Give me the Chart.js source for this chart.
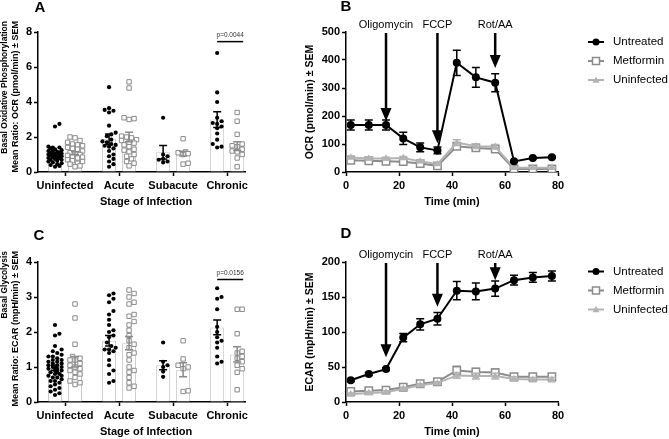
<!DOCTYPE html>
<html><head><meta charset="utf-8">
<script src="https://cdn.jsdelivr.net/npm/chart.js@4.4.1/dist/chart.umd.min.js"></script>
<style>
html,body{margin:0;padding:0;background:#fff;}
#wrap{position:relative;width:669px;height:439px;overflow:hidden;background:#fff;}
#wrap canvas{position:absolute;left:0;top:0;width:669px;height:439px;}
</style></head><body>
<div id="wrap">
<canvas id="cA" width="669" height="439"></canvas>
<canvas id="cB" width="669" height="439"></canvas>
<canvas id="cC" width="669" height="439"></canvas>
<canvas id="cD" width="669" height="439"></canvas>
</div>
<script>
const FONT = "'Liberation Sans', Arial, Helvetica, sans-serif";
Chart.defaults.font.family = FONT;
Chart.defaults.color = '#000';

// ---------- DATA ----------
const stages = ['Uninfected', 'Acute', 'Subacute', 'Chronic'];

// Panel A: basal OCR mean ratio (individual samples per stage)
const ocrRatioUntreated = [
  [2.75,2.6,1.45,1.4,1.4,1.35,1.3,1.25,1.2,1.2,1.15,1.1,1.1,1.05,1.05,1.0,1.0,1.0,0.95,0.95,0.9,0.9,0.85,0.85,0.8,0.8,0.75,0.7,0.7,0.65,0.6,0.55,0.5,0.45,0.4,0.35,0.3],
  [4.85,3.65,3.55,3.5,3.4,2.65,2.25,2.15,2.05,1.85,1.75,1.7,1.6,1.55,1.5,1.45,1.35,1.2,1.0,0.9,0.75,0.6,0.45,0.3],
  [3.1,1.0,0.9,0.75,0.7,0.6,0.55],
  [6.8,4.55,4.0,3.1,2.9,2.8,2.75,2.6,2.5,2.2,1.85,1.6,1.45,1.4]
];
const ocrRatioMetformin = [
  [2.0,1.95,1.8,1.7,1.6,1.55,1.5,1.4,1.35,1.3,1.2,1.1,1.05,1.0,0.95,0.9,0.85,0.8,0.7,0.65,0.6,0.5,0.45,0.35,0.3],
  [5.15,4.8,3.1,3.05,3.0,2.05,2.0,1.95,1.85,1.8,1.7,1.65,1.55,1.45,1.3,1.25,1.15,1.0,0.9,0.75,0.6,0.5,0.35],
  [1.9,1.15,1.1,1.05,1.0,0.5,0.45],
  [3.4,2.9,2.15,1.6,1.5,1.45,1.3,1.2,1.15,1.0,0.8,0.3]
];
const ocrRatioUntreatedMean = [1.0, 1.87, 1.13, 3.0];
const ocrRatioUntreatedSem  = [0.08, 0.3, 0.38, 0.45];
const ocrRatioMetforminMean = [1.07, 2.0, 1.05, 1.48];
const ocrRatioMetforminSem  = [0.09, 0.27, 0.14, 0.25];

// Panel C: basal ECAR mean ratio
const ecarRatioUntreated = [
  [2.2,1.95,1.9,1.6,1.5,1.45,1.4,1.35,1.3,1.3,1.25,1.2,1.2,1.15,1.15,1.1,1.1,1.05,1.05,1.0,1.0,1.0,0.95,0.95,0.9,0.9,0.85,0.85,0.8,0.8,0.75,0.75,0.7,0.7,0.65,0.6,0.6,0.55,0.5,0.45,0.4,0.35,0.3,0.25,0.2],
  [3.1,3.05,2.95,2.85,2.6,2.5,2.35,2.2,2.05,2.0,1.9,1.85,1.7,1.6,1.55,1.5,1.5,1.45,1.4,1.2,1.05,0.9,0.8,0.6,0.55],
  [1.7,1.15,1.05,1.0,0.87,0.72],
  [3.25,3.0,2.95,2.65,2.15,2.0,1.85,1.75,1.7,1.55,1.3,1.15,1.1]
];
const ecarRatioMetformin = [
  [2.8,2.4,1.65,1.3,1.25,1.2,1.2,1.1,1.05,1.0,0.95,0.9,0.85,0.8,0.7,0.6,0.55,0.5],
  [3.2,3.1,3.0,2.85,2.8,2.5,2.45,2.3,2.2,2.05,1.9,1.75,1.65,1.55,1.4,1.35,1.2,1.0,0.9,0.85,0.7,0.55,0.45,0.4],
  [1.75,1.23,1.05,1.0,0.95,0.32,0.3],
  [2.65,2.65,1.95,1.45,1.4,1.3,1.25,1.15,1.05,0.95,0.85,0.35]
];
const ecarRatioUntreatedMean = [0.98, 1.75, 1.05, 2.13];
const ecarRatioUntreatedSem  = [0.07, 0.15, 0.13, 0.21];
const ecarRatioMetforminMean = [1.15, 1.68, 0.92, 1.36];
const ecarRatioMetforminSem  = [0.15, 0.19, 0.2, 0.22];

// Panels B and D: time course
const timeMin = [1.8, 8.6, 15.1, 21.6, 28, 34.5, 41.8, 49, 56.3, 63.4, 70.5, 77.7];
const ocrUntreated    = [168, 168, 168, 120, 88, 77, 390, 338, 319, 38, 50, 53];
const ocrUntreatedSem = [18, 18, 18, 22, 16, 12, 45, 35, 32, 3, 3, 3];
const ocrMetformin    = [42, 40, 38, 37, 30, 22, 92, 86, 82, 11, 11, 11];
const ocrMetforminSem = [5, 5, 5, 5, 4, 4, 8, 6, 6, 2, 2, 2];
const ocrUninfected   = [52, 48, 48, 50, 38, 28, 105, 92, 90, 15, 15, 15];
const ocrUninfectedSem= [5, 5, 5, 5, 4, 4, 10, 8, 8, 2, 2, 2];

const ecarUntreated    = [31, 40, 47, 92, 111, 119, 159, 158, 162, 174, 178, 180];
const ecarUntreatedSem = [2, 2, 2, 6, 8, 9, 13, 12, 11, 7, 7, 7];
const ecarMetformin    = [15, 16, 17, 21, 26, 29, 45, 43, 42, 36, 36, 36];
const ecarMetforminSem = [3, 3, 3, 3, 3, 3, 6, 5, 5, 4, 4, 4];
const ecarUninfected   = [11, 13, 14, 19, 24, 27, 38, 37, 37, 33, 32, 32];
const ecarUninfectedSem= [2, 2, 2, 2, 2, 2, 4, 4, 4, 3, 3, 3];

const injections = ['Oligomycin', 'FCCP', 'Rot/AA'];
const injectionTime = [15.1, 34.5, 56.3];
const ocrArrowTip  = [182, 103, 371];
const ecarArrowTip = [64, 136, 174];

const seriesNames = ['Untreated', 'Metformin', 'Uninfected'];
const pValueA = 'p=0.0044';
const pValueC = 'p=0.0156';

// ---------- STYLE ----------
const COL_UNTR = '#000000', COL_MET = '#8c8c8c', COL_UNINF = '#b3b3b3';
const OFF = 0.185; // half-spacing of paired bars (category units)

function axisStyle(extra) {
  return Object.assign({
    grid: { display: true, drawOnChartArea: false, drawTicks: true, tickLength: 4, tickColor: '#000', tickWidth: 1.5, color: '#000', offset: false },
    border: { display: true, color: '#000', width: 1.5 },
    ticks: { color: '#000', font: { family: FONT, size: 11, weight: 'bold' }, padding: 2 }
  }, extra);
}

// ---------- PLUGINS ----------
function drawMarker(ctx, style, x, y, color, fill) {
  ctx.save();
  ctx.lineWidth = 1.5; ctx.strokeStyle = color; ctx.fillStyle = fill;
  ctx.beginPath();
  if (style === 'circle') { ctx.arc(x, y, 3.5, 0, Math.PI * 2); ctx.fill(); }
  else if (style === 'rect') { ctx.rect(x - 3.5, y - 3.5, 7, 7); ctx.fill(); ctx.stroke(); }
  else { ctx.moveTo(x, y - 3.5); ctx.lineTo(x + 3.5, y + 2.8); ctx.lineTo(x - 3.5, y + 2.8); ctx.closePath(); ctx.fill(); }
  ctx.restore();
}

const annotPlugin = {
  id: 'annot',
  afterDraw(chart, args, o) {
    const ctx = chart.ctx, ca = chart.chartArea, xs = chart.scales.x, ys = chart.scales.y;
    ctx.save();
    ctx.fillStyle = '#000'; ctx.strokeStyle = '#000';
    // panel letter
    ctx.font = `bold 15px ${FONT}`; ctx.textAlign = 'center'; ctx.textBaseline = 'middle';
    ctx.fillText(o.letter, ca.left + o.letterDx, ca.top - o.letterDy);
    // y titles
    if (o.yTitleLines) {
      o.yTitleLines.forEach((t, k) => {
        ctx.font = `bold ${o.yTitleSize[k]}px ${FONT}`;
        ctx.save(); ctx.translate(ca.left - o.yTitleDx[k], ca.top - 11); ctx.rotate(-Math.PI / 2);
        ctx.textAlign = 'right'; ctx.textBaseline = 'middle'; ctx.fillText(t, 0, 0); ctx.restore();
      });
    }
    if (o.yTitle) {
      ctx.font = `bold ${o.yTitleSize}px ${FONT}`;
      ctx.save(); ctx.translate(ca.left - o.yTitleDx, (ca.top + ca.bottom) / 2); ctx.rotate(-Math.PI / 2);
      ctx.textAlign = 'center'; ctx.textBaseline = 'middle'; ctx.fillText(o.yTitle, 0, 0); ctx.restore();
    }
    // x title
    ctx.font = `bold 11px ${FONT}`; ctx.textAlign = 'center'; ctx.textBaseline = 'middle';
    ctx.fillText(o.xTitle, xs.getPixelForValue(o.xTitleAt), ca.bottom + 30);
    // p-value bracket
    if (o.pval) {
      const p = o.pval;
      ctx.lineWidth = 1.5;
      const ly = ys.getPixelForValue(p.lineY);
      ctx.beginPath(); ctx.moveTo(xs.getPixelForValue(p.x1), ly); ctx.lineTo(xs.getPixelForValue(p.x2), ly); ctx.stroke();
      ctx.fillStyle = '#333'; ctx.font = `6.5px ${FONT}`;
      ctx.fillText(p.text, xs.getPixelForValue((p.x1 + p.x2) / 2), ys.getPixelForValue(p.textY));
      ctx.fillStyle = '#000';
    }
    // injection arrows
    if (o.arrows) {
      o.arrows.labels.forEach((lab, i) => {
        const x = xs.getPixelForValue(o.arrows.times[i]);
        const tip = ys.getPixelForValue(o.arrows.tips[i]);
        const top = ca.top + 1, headH = 13, headW = 5.5;
        ctx.lineWidth = 2.5;
        ctx.beginPath(); ctx.moveTo(x, top); ctx.lineTo(x, tip - headH + 1); ctx.stroke();
        ctx.beginPath(); ctx.moveTo(x - headW, tip - headH); ctx.lineTo(x + headW, tip - headH); ctx.lineTo(x, tip); ctx.closePath(); ctx.fill();
        ctx.font = `11px ${FONT}`; ctx.textAlign = 'center'; ctx.textBaseline = 'middle';
        ctx.fillText(lab, x, ca.top - 7.5);
      });
    }
    // legend
    if (o.legend) {
      chart.data.datasets.forEach((ds, i) => {
        const y = ca.top + o.legend.dy0 + i * 19;
        const lx = ca.right + 30;
        ctx.strokeStyle = ds.borderColor; ctx.lineWidth = 2;
        ctx.beginPath(); ctx.moveTo(lx, y); ctx.lineTo(lx + 16, y); ctx.stroke();
        drawMarker(ctx, ds.pointStyle, lx + 8, y, ds.borderColor, ds.pointBackgroundColor);
        ctx.fillStyle = '#000'; ctx.font = `11.5px ${FONT}`; ctx.textAlign = 'left'; ctx.textBaseline = 'middle';
        ctx.fillText(ds.label, lx + 25, y);
      });
    }
    ctx.restore();
  }
};

const errPlugin = {
  id: 'errbars',
  beforeDatasetDraw(chart, args, o) {
    if (!o.sems || !o.sems[args.index]) return;
    const sems = o.sems[args.index];
    const ds = chart.data.datasets[args.index];
    const ctx = chart.ctx, xs = chart.scales.x, ys = chart.scales.y;
    ctx.save(); ctx.strokeStyle = ds.borderColor; ctx.lineWidth = 1.5;
    ds.data.forEach((p, i) => {
      const x = xs.getPixelForValue(p.x);
      const y1 = ys.getPixelForValue(p.y - sems[i]), y2 = ys.getPixelForValue(p.y + sems[i]);
      ctx.beginPath();
      ctx.moveTo(x, y1); ctx.lineTo(x, y2);
      ctx.moveTo(x - 4, y1); ctx.lineTo(x + 4, y1);
      ctx.moveTo(x - 4, y2); ctx.lineTo(x + 4, y2);
      ctx.stroke();
    });
    ctx.restore();
  },
  afterDatasetsDraw(chart, args, o) {
    if (!o.groups) return;
    const ctx = chart.ctx, xs = chart.scales.x, ys = chart.scales.y;
    ctx.save(); ctx.lineWidth = 1.5;
    o.groups.forEach(g => {
      ctx.strokeStyle = g.color;
      g.means.forEach((m, i) => {
        const x = xs.getPixelForValue(i + g.shift);
        const y1 = ys.getPixelForValue(m - g.sems[i]), y2 = ys.getPixelForValue(m + g.sems[i]);
        ctx.beginPath();
        ctx.moveTo(x, y1); ctx.lineTo(x, y2);
        ctx.moveTo(x - 4, y1); ctx.lineTo(x + 4, y1);
        ctx.moveTo(x - 4, y2); ctx.lineTo(x + 4, y2);
        ctx.stroke();
      });
    });
    ctx.restore();
  }
};

// ---------- SWARM (deterministic dot spreading) ----------
function swarm(yPix, dist, step, maxOff) {
  const order = yPix.map((y, i) => i).sort((a, b) => yPix[b] - yPix[a]);
  const placed = [], offs = new Array(yPix.length).fill(0);
  const cands = [0];
  for (let k = 1; k * step <= maxOff + 1e-6; k++) cands.push(k * step, -k * step);
  order.forEach(i => {
    const y = yPix[i];
    let chosen = null, bestScore = -1, bestC = 0;
    for (const c of cands) {
      let minD = Infinity;
      for (const p of placed) { const d = Math.hypot(p.x - c, p.y - y); if (d < minD) minD = d; }
      if (minD >= dist) { chosen = c; break; }
      if (minD > bestScore) { bestScore = minD; bestC = c; }
    }
    if (chosen === null) chosen = bestC;
    offs[i] = chosen; placed.push({ x: chosen, y });
  });
  return offs;
}

function applySwarm(chart, specs) {
  const xs = chart.scales.x, ys = chart.scales.y;
  specs.forEach(s => {
    const ds = chart.data.datasets[s.index];
    const out = [];
    s.groups.forEach((vals, gi) => {
      const cx = xs.getPixelForValue(gi + s.shift);
      const offs = swarm(vals.map(v => ys.getPixelForValue(v)), s.dist, s.step, s.max);
      vals.forEach((v, k) => out.push({ x: xs.getValueForPixel(cx + offs[k]), y: v }));
    });
    ds.data = out;
  });
  chart.update('none');
}

// ---------- DOT/BAR PANELS (A, C) ----------
function dotPanel(id, d) {
  const ptsU = d.untr.flatMap((arr, i) => arr.map(v => ({ x: i - OFF, y: v })));
  const ptsM = d.met.flatMap((arr, i) => arr.map(v => ({ x: i + OFF, y: v })));
  const chart = new Chart(document.getElementById(id), {
    type: 'bar',
    data: {
      datasets: [
        { type: 'bar', label: 'Untreated mean', data: d.untrMean.map((m, i) => ({ x: i - OFF, y: m })),
          backgroundColor: '#ffffff', borderColor: '#c8c8c8', borderWidth: 1, maxBarThickness: 14, grouped: false, order: 5 },
        { type: 'bar', label: 'Metformin mean', data: d.metMean.map((m, i) => ({ x: i + OFF, y: m })),
          backgroundColor: '#ffffff', borderColor: '#c8c8c8', borderWidth: 1, maxBarThickness: 14, grouped: false, order: 4 },
        { type: 'line', label: 'Untreated', data: ptsU, showLine: false, pointStyle: 'circle', pointRadius: 2.1,
          pointBackgroundColor: '#000', pointBorderColor: '#000', pointBorderWidth: 0, borderColor: '#000', order: 1 },
        { type: 'line', label: 'Metformin', data: ptsM, showLine: false, pointStyle: 'rect', pointRadius: 3.1,
          pointBackgroundColor: '#fff', pointBorderColor: '#8a8a8a', pointBorderWidth: 1, borderColor: '#8a8a8a', order: 2 }
      ]
    },
    options: {
      responsive: false, animation: false, events: [],
      layout: { padding: { left: 8, right: 424, top: d.top, bottom: 439 - d.top - 140 - 20 } },
      plugins: {
        legend: { display: false }, tooltip: { enabled: false },
        annot: d.annot,
        errbars: { groups: [
          { means: d.untrMean, sems: d.untrSem, shift: -OFF, color: '#000' },
          { means: d.metMean, sems: d.metSem, shift: OFF, color: '#8a8a8a' } ] }
      },
      scales: {
        x: axisStyle({ type: 'linear', min: -0.5, max: 3.33, offset: false,
          afterBuildTicks: s => { s.ticks = stages.map((c, i) => ({ value: i })); },
          afterFit: s => { s.height = 20; },
          ticks: { color: '#000', font: { family: FONT, size: 11, weight: 'bold' }, padding: 3, autoSkip: false, maxRotation: 0,
                   callback: v => stages[v] } }),
        y: axisStyle({ type: 'linear', min: 0, max: d.ymax,
          ticks: { color: '#000', font: { family: FONT, size: 11, weight: 'bold' }, padding: 2, stepSize: d.ystep },
          afterFit: s => { s.width = 30; } })
      }
    },
    plugins: [annotPlugin, errPlugin]
  });
  applySwarm(chart, [
    { index: 2, groups: d.untr, shift: -OFF, dist: 4.3, step: 2.2, max: 8 },
    { index: 3, groups: d.met, shift: OFF, dist: 5.0, step: 2.5, max: 7.5 }
  ]);
  return chart;
}

dotPanel('cA', {
  top: 32, ymax: 8, ystep: 2,
  untr: ocrRatioUntreated, met: ocrRatioMetformin,
  untrMean: ocrRatioUntreatedMean, untrSem: ocrRatioUntreatedSem,
  metMean: ocrRatioMetforminMean, metSem: ocrRatioMetforminSem,
  annot: { letter: 'A', letterDx: 2, letterDy: 24,
    yTitleLines: ['Basal Oxidative Phosphorylation', 'Mean Ratio: OCR (pmol/min) \u00B1 SEM'], yTitleDx: [33, 22], yTitleSize: [8.5, 9],
    xTitle: 'Stage of Infection', xTitleAt: 1.5,
    pval: { text: pValueA, x1: 2.815, x2: 3.296, lineY: 7.45, textY: 7.83 } }
});

dotPanel('cC', {
  top: 262, ymax: 4, ystep: 1,
  untr: ecarRatioUntreated, met: ecarRatioMetformin,
  untrMean: ecarRatioUntreatedMean, untrSem: ecarRatioUntreatedSem,
  metMean: ecarRatioMetforminMean, metSem: ecarRatioMetforminSem,
  annot: { letter: 'C', letterDx: 1, letterDy: 26,
    yTitleLines: ['Basal Glycolysis', 'Mean Ratio: ECAR (mpH/min) \u00B1 SEM'], yTitleDx: [33, 22], yTitleSize: [8.5, 9],
    xTitle: 'Stage of Infection', xTitleAt: 1.5,
    pval: { text: pValueC, x1: 2.815, x2: 3.296, lineY: 3.5, textY: 3.68 } }
});

// ---------- TIME-COURSE PANELS (B, D) ----------
function tracePanel(id, d) {
  const mk = arr => arr.map((v, i) => ({ x: timeMin[i], y: v }));
  return new Chart(document.getElementById(id), {
    type: 'line',
    data: {
      datasets: [
        { label: seriesNames[0], data: mk(d.untr), borderColor: COL_UNTR, backgroundColor: COL_UNTR, borderWidth: 2,
          pointStyle: 'circle', pointRadius: 4, pointBackgroundColor: COL_UNTR, pointBorderColor: COL_UNTR, pointBorderWidth: 0, order: 0 },
        { label: seriesNames[1], data: mk(d.met), borderColor: COL_MET, backgroundColor: COL_MET, borderWidth: 2,
          pointStyle: 'rect', pointRadius: 5.2, pointBackgroundColor: '#ffffff', pointBorderColor: COL_MET, pointBorderWidth: 1.5, order: 2 },
        { label: seriesNames[2], data: mk(d.uninf), borderColor: COL_UNINF, backgroundColor: COL_UNINF, borderWidth: 2,
          pointStyle: 'triangle', pointRadius: 4.2, pointBackgroundColor: COL_UNINF, pointBorderColor: COL_UNINF, pointBorderWidth: 0, order: 1 }
      ]
    },
    options: {
      responsive: false, animation: false, events: [],
      layout: { padding: { left: 306, right: 111, top: d.top, bottom: 439 - d.top - 140 - 20 } },
      plugins: {
        legend: { display: false }, tooltip: { enabled: false },
        annot: d.annot,
        errbars: { sems: [d.untrSem, d.metSem, d.uninfSem] }
      },
      scales: {
        x: axisStyle({ type: 'linear', min: 0, max: 80,
          ticks: { color: '#000', font: { family: FONT, size: 11, weight: 'bold' }, padding: 3, stepSize: 20, maxRotation: 0 },
          afterFit: s => { s.height = 20; } }),
        y: axisStyle({ type: 'linear', min: 0, max: d.ymax,
          ticks: { color: '#000', font: { family: FONT, size: 11, weight: 'bold' }, padding: 2, stepSize: d.ystep },
          afterFit: s => { s.width = 40; } })
      }
    },
    plugins: [annotPlugin, errPlugin]
  });
}

tracePanel('cB', {
  top: 32, ymax: 500, ystep: 100,
  untr: ocrUntreated, untrSem: ocrUntreatedSem, met: ocrMetformin, metSem: ocrMetforminSem,
  uninf: ocrUninfected, uninfSem: ocrUninfectedSem,
  annot: { letter: 'B', letterDx: 0, letterDy: 25,
    yTitle: 'OCR (pmol/min) \u00B1 SEM', yTitleDx: 36, yTitleSize: 10.5,
    xTitle: 'Time (min)', xTitleAt: 40,
    arrows: { labels: injections, times: injectionTime, tips: ocrArrowTip },
    legend: { dy0: 10 } }
});

tracePanel('cD', {
  top: 262, ymax: 200, ystep: 50,
  untr: ecarUntreated, untrSem: ecarUntreatedSem, met: ecarMetformin, metSem: ecarMetforminSem,
  uninf: ecarUninfected, uninfSem: ecarUninfectedSem,
  annot: { letter: 'D', letterDx: 0, letterDy: 28,
    yTitle: 'ECAR (mpH/min) \u00B1 SEM', yTitleDx: 36, yTitleSize: 10.5,
    xTitle: 'Time (min)', xTitleAt: 40,
    arrows: { labels: injections, times: injectionTime, tips: ecarArrowTip },
    legend: { dy0: 9.5 } }
});
</script>
</body></html>
